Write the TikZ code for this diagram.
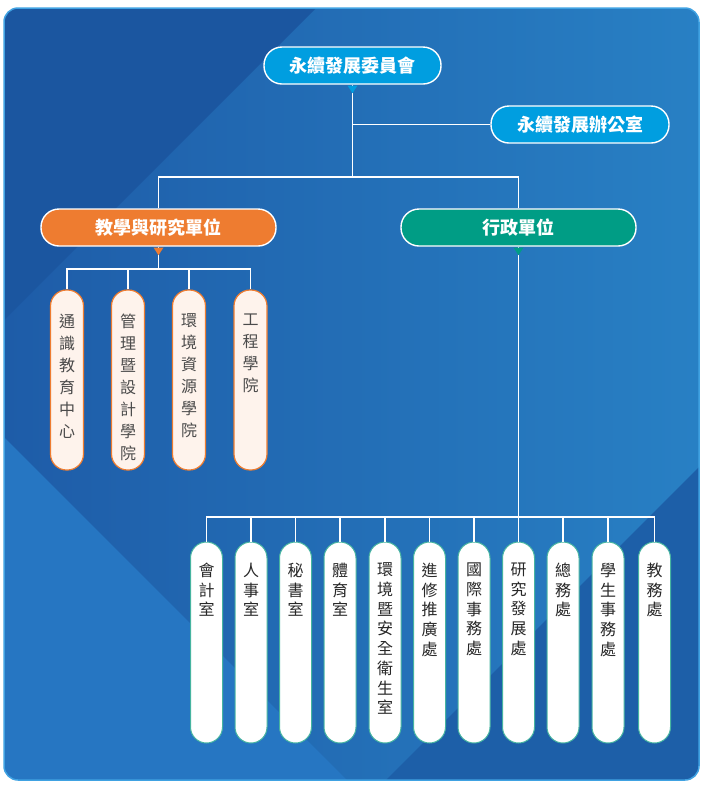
\documentclass[tikz,border=0pt]{standalone}
\usepackage{fontspec}
\usepackage{tikz}
\usetikzlibrary{
	calc,
}
\newfontfamily\cjk{Noto Sans CJK TC}
\definecolor{bgleft}{RGB}{30,92,168}
\definecolor{bgright}{RGB}{40,128,196}
\definecolor{bgdark}{RGB}{27,86,160}
\definecolor{bglight}{RGB}{38,118,194}
\definecolor{bgdeep}{RGB}{29,95,168}
\definecolor{bgedge}{RGB}{64,162,226}
\definecolor{headblue}{RGB}{0,158,224}
\definecolor{teachorange}{RGB}{238,124,48}
\definecolor{admingreen}{RGB}{0,157,133}
\definecolor{cream}{RGB}{254,243,236}
\definecolor{collegetext}{RGB}{75,75,75}
\definecolor{officeline}{RGB}{70,180,160}
\definecolor{officetext}{RGB}{40,40,40}
\newcommand{\colstack}[2]{\parbox[c][#1][t]{1.2em}{\centering #2}}

\begin{document}
\begin{tikzpicture}[x=1pt,y=-1pt,
	headbox/.style={draw=white,line width=1.4pt,rounded corners=18pt,minimum height=37pt,inner sep=0pt,text=white,font=\cjk\bfseries\fontsize{18}{20}\selectfont},
	collegepill/.style={draw=teachorange,fill=cream,line width=1.2pt,rounded corners=16pt,minimum width=33pt,minimum height=180pt,inner sep=0pt,text=collegetext,font=\cjk\fontsize{16}{22}\selectfont},
	officepill/.style={draw=officeline,fill=white,line width=1pt,rounded corners=16pt,minimum width=32pt,minimum height=201pt,inner sep=0pt,text=officetext,font=\cjk\fontsize{16}{19.7}\selectfont},
	link/.style={draw=white,line width=1.2pt},
	]
				\fill[white] (0,0) rectangle (709,788);
				\useasboundingbox (0,0) rectangle (709,788);
				\shade[left color=bgleft,right color=bgright,rounded corners=14pt] (4,8) rectangle (699,780);
				\begin{scope}
					\clip[rounded corners=14pt] (4,8) rectangle (699,780);
					\fill[bgdark] (4,8) -- (316,8) -- (4,320) -- cycle;
					\fill[bglight] (4,437) -- (347,780) -- (4,780) -- cycle;
					\fill[bgdeep] (699,467) -- (699,780) -- (386,780) -- cycle;
				\end{scope}
				\draw[bgedge,line width=1.5pt,rounded corners=14pt] (4,8) rectangle (699,780);
				\coordinate (split) at (352.5,177);
				\coordinate (tbus) at (158.5,269);
				\coordinate (abus) at (518.5,517);
				\node[headbox,fill=headblue,minimum width=177pt] (top) at (352.5,65.5) {永續發展委員會};
				\node[headbox,fill=headblue,minimum width=178pt] (office) at (580,124.5) {永續發展辦公室};
				\node[headbox,fill=teachorange,minimum width=235pt] (teach) at (158.5,227.5) {教學與研究單位};
				\node[headbox,fill=admingreen,minimum width=235pt] (admin) at (518.5,227.5) {行政單位};
				\node[collegepill] (t1) at (67,380) {\colstack{132pt}{通\\識\\教\\育\\中\\心}};
				\node[collegepill] (t2) at (128,380) {\colstack{132pt}{管\\理\\暨\\設\\計\\學\\院}};
				\node[collegepill] (t3) at (189,380) {\colstack{132pt}{環\\境\\資\\源\\學\\院}};
				\node[collegepill] (t4) at (250.5,380) {\colstack{132pt}{工\\程\\學\\院}};
				\node[officepill] (a1) at (206.5,642.5) {\colstack{159pt}{會\\計\\室}};
				\node[officepill] (a2) at (251,642.5) {\colstack{159pt}{人\\事\\室}};
				\node[officepill] (a3) at (295.5,642.5) {\colstack{159pt}{秘\\書\\室}};
				\node[officepill] (a4) at (340,642.5) {\colstack{159pt}{體\\育\\室}};
				\node[officepill] (a5) at (385,642.5) {\colstack{159pt}{環\\境\\暨\\安\\全\\衛\\生\\室}};
				\node[officepill] (a6) at (429.5,642.5) {\colstack{159pt}{進\\修\\推\\廣\\處}};
				\node[officepill] (a7) at (474,642.5) {\colstack{159pt}{國\\際\\事\\務\\處}};
				\node[officepill] (a8) at (518.5,642.5) {\colstack{159pt}{研\\究\\發\\展\\處}};
				\node[officepill] (a9) at (563,642.5) {\colstack{159pt}{總\\務\\處}};
				\node[officepill] (a10) at (608,642.5) {\colstack{159pt}{學\\生\\事\\務\\處}};
				\node[officepill] (a11) at (654.5,642.5) {\colstack{159pt}{教\\務\\處}};
				\draw[link] (top.south) -- (split);
				\draw[link] (top.south |- office.west) -- (office.west);
				\draw[link] (teach.north) |- (split) -| (admin.north);
				\draw[link] (teach.south) -- (tbus);
				\draw[link] (t1.north) |- (tbus) -| (t4.north);
				\draw[link] (t2.north) -- (t2.north |- tbus) (t3.north) -- (t3.north |- tbus);
				\draw[link] (admin.south) -- (a8.north);
				\draw[link] (a1.north) |- (abus) -| (a11.north);
				\draw[link] (a2.north) -- (a2.north |- abus) (a3.north) -- (a3.north |- abus) (a4.north) -- (a4.north |- abus)
					(a5.north) -- (a5.north |- abus) (a6.north) -- (a6.north |- abus) (a7.north) -- (a7.north |- abus)
					(a9.north) -- (a9.north |- abus) (a10.north) -- (a10.north |- abus);
				\fill[headblue] ($(top.south)+(-5,0.8)$) -- ($(top.south)+(5,0.8)$) -- ($(top.south)+(0,8.5)$) -- cycle;
				\fill[teachorange] ($(teach.south)+(-5,0.8)$) -- ($(teach.south)+(5,0.8)$) -- ($(teach.south)+(0,8.5)$) -- cycle;
				\fill[admingreen] ($(admin.south)+(-5,0.8)$) -- ($(admin.south)+(5,0.8)$) -- ($(admin.south)+(0,8.5)$) -- cycle;
			\end{tikzpicture}
\end{document}
